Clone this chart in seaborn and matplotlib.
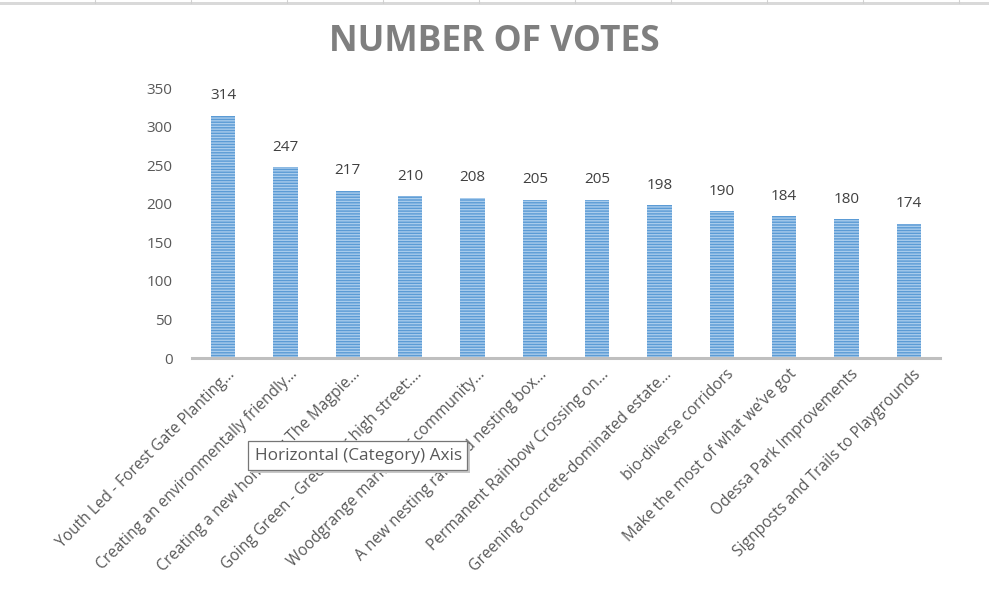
import matplotlib
matplotlib.use("Agg")
import matplotlib.pyplot as plt
import matplotlib.transforms as mtransforms
import seaborn as sns
import pandas as pd
from matplotlib.patches import Rectangle
from matplotlib.lines import Line2D

categories = [
    "Youth Led - Forest Gate Planting...",
    "Creating an environmentally friendly...",
    "Creating a new home for The Magpie...",
    "Going Green - Green our high street:...",
    "Woodgrange market for community...",
    "A new nesting raft and nesting box...",
    "Permanent Rainbow Crossing on...",
    "Greening concrete-dominated estate...",
    "bio-diverse corridors",
    "Make the most of what we\u2019ve got",
    "Odessa Park Improvements",
    "Signposts and Trails to Playgrounds",
]
votes = [314, 247, 217, 210, 208, 205, 205, 198, 190, 184, 180, 174]
yticks = [0, 50, 100, 150, 200, 250, 300, 350]
title = "NUMBER OF VOTES"
tooltip = "Horizontal (Category) Axis"

sns.set_style("white")
plt.rcParams["font.family"] = ["Open Sans", "DejaVu Sans"]
plt.rcParams["hatch.linewidth"] = 1.0

df = pd.DataFrame({"category": categories, "votes": votes})

W, H = 989, 592
fig = plt.figure(figsize=(W / 100, H / 100), dpi=100)
ax = fig.add_axes([192 / W, 1 - 358 / H, (940 - 192) / W, (358 - 88) / H])

sns.barplot(data=df, x="category", y="votes", color="#5B9BD5", width=0.39,
            ax=ax, saturation=1)
for p in ax.patches:
    p.set_hatch("------")
    p.set_edgecolor("#A9CCEC")
    p.set_linewidth(0)

ax.bar_label(ax.containers[0], labels=[str(v) for v in votes], padding=9,
             fontsize=11, color="#404040")

ax.set_xlim(-0.5, len(categories) - 0.5)
ax.set_ylim(0, 350)
ax.set_yticks(yticks)
ax.set_yticklabels([str(t) for t in yticks], fontsize=11, color="#595959")
ax.tick_params(axis="y", length=0, pad=14)
ax.tick_params(axis="x", length=0, pad=6)
ax.set_xticks(range(len(categories)))
ax.set_xticklabels(categories, rotation=45, ha="right", va="top",
                   rotation_mode="anchor", fontsize=11.2, color="#595959")
shift = mtransforms.ScaledTranslation(4 / 100, 0, fig.dpi_scale_trans)
for lbl in ax.get_xticklabels():
    lbl.set_transform(lbl.get_transform() + shift)
ax.set_xlabel("")
ax.set_ylabel("")
for s in ["top", "right", "left"]:
    ax.spines[s].set_visible(False)
ax.spines["bottom"].set_color("#BFBFBF")
ax.spines["bottom"].set_linewidth(2.2)
ax.grid(False)

fig.text(494 / W, 1 - 42 / H, title, ha="center", va="center",
         fontsize=25.5, fontweight="bold", color="#7F7F7F")

# spreadsheet strip at the top
fig.patches.append(Rectangle((0, 1 - 5 / H), 1, 3 / H, transform=fig.transFigure,
                             facecolor="#D9D9D9", edgecolor="none"))
for xv in [95, 191, 287, 383, 479, 575, 671, 767, 863, 959]:
    fig.lines.append(Line2D([xv / W, xv / W], [1, 1 - 3 / H], transform=fig.transFigure,
                            color="#D0D0D0", lw=0.8))

# tooltip with shadow
tx0, ty0, tx1, ty1 = 248, 441, 467, 470
fig.patches.append(Rectangle(((tx0 + 3) / W, 1 - (ty1 + 3) / H), (tx1 - tx0) / W,
                             (ty1 - ty0) / H, transform=fig.transFigure,
                             facecolor="#C8C8C8", edgecolor="none", zorder=5))
fig.patches.append(Rectangle((tx0 / W, 1 - ty1 / H), (tx1 - tx0) / W,
                             (ty1 - ty0) / H, transform=fig.transFigure,
                             facecolor="white", edgecolor="#767676", lw=0.9, zorder=6))
fig.text(255 / W, 1 - 456 / H, tooltip, ha="left", va="center", fontsize=12.4,
         color="#595959", zorder=10)

fig.savefig("out.png", dpi=100)
